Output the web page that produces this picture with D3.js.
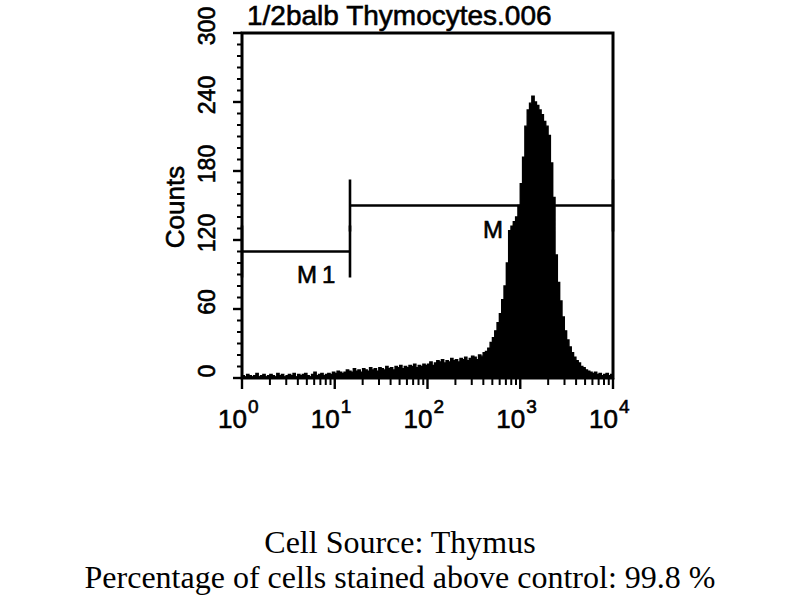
<!DOCTYPE html>
<html>
<head>
<meta charset="utf-8">
<script src="https://cdn.jsdelivr.net/npm/d3@7"></script>
<style>
  html, body { margin: 0; padding: 0; background: #fff; }
  svg { display: block; }
</style>
</head>
<body>
<svg id="chart" width="800" height="600"></svg>
<script>
// ---------------- DATA ----------------
const title = "1/2balb Thymocytes.006";
const yLabel = "Counts";
const yTicks = [0, 60, 120, 180, 240, 300];
const xDecades = [0, 1, 2, 3, 4];           // 10^0 ... 10^4
const binsPerDecade = 40;                   // 160 channels across 4 decades
const counts = [
  // 10^0 .. 10^1
  2,1,3,2,1,2,4,1,2,3,1,2,3,2,1,4,2,3,1,2,3,2,4,1,3,2,3,4,2,1,3,5,2,3,4,2,3,4,3,5,
  // 10^1 .. 10^2
  4,6,5,4,5,7,6,5,8,6,7,5,8,7,6,9,7,8,6,9,8,7,10,8,9,7,10,9,11,8,10,9,11,10,12,9,11,10,12,11,
  // 10^2 .. 10^2.6
  12,14,11,13,15,14,16,13,15,14,17,15,16,14,17,16,18,15,17,19,18,16,20,19,22,
  // rising shoulder
  23,26,31,35,41,48,56,
  // main peak, left side
  68,80,100,128,132,136,140,150,169,192,219,233,239,245,
  // peak right side and tail
  240,237,233,229,223,219,211,187,157,107,83,67,53,41,33,27,22,18,15,13,10,9,7,6,5,
  // 10^3.78 .. 10^4
  4,5,3,4,2,3,4,2,3
];
const markers = [
  { name: "M1", from: 1, to: 14.6, level: 110 },
  { name: "M2", from: 14.6, to: 10000, level: 150 }
];
const captionLines = [
  "Cell Source: Thymus",
  "Percentage of cells stained above control: 99.8 %"
];

// ---------------- LAYOUT ----------------
const svg = d3.select("#chart");
const plot = { left: 242, right: 613, top: 33, bottom: 378 };
const x = d3.scaleLog().domain([1, 10000]).range([plot.left, plot.right]);
const y = d3.scaleLinear().domain([0, 300]).range([plot.bottom, plot.top]);
const sans = "'Liberation Sans', Arial, Helvetica, sans-serif";
const serif = "'Liberation Serif', 'Times New Roman', Times, serif";
const ink = "#000";

function sansText(sel) {
  return sel.attr("font-family", sans)
    .attr("fill", ink)
    .attr("stroke", ink)
    .attr("stroke-width", 0.6);
}

// Marker labels (drawn before histogram so the peak covers part of M2)
const markerLabelPos = { M1: { dx: 297, by: 283, ls: 5 }, M2: { dx: 483, by: 238, ls: 9 } };
markers.forEach(m => {
  const p = markerLabelPos[m.name];
  sansText(svg.append("text"))
    .attr("x", p.dx).attr("y", p.by)
    .attr("font-size", 24)
    .attr("letter-spacing", p.ls)
    .text(m.name);
});

// Marker bars
markers.forEach(m => {
  const g = svg.append("g").attr("stroke", ink).attr("stroke-width", 2.6).attr("fill", "none");
  g.append("line")
    .attr("x1", x(m.from)).attr("x2", x(m.to))
    .attr("y1", y(m.level)).attr("y2", y(m.level));
  [m.from, m.to].forEach(v => {
    g.append("line")
      .attr("x1", x(v)).attr("x2", x(v))
      .attr("y1", y(m.level) - 26).attr("y2", y(m.level) + 26);
  });
});

// Histogram
const pts = counts.map((c, i) => ({ v: Math.pow(10, i / binsPerDecade), c }));
pts.push({ v: 10000, c: counts[counts.length - 1] });
const area = d3.area()
  .x(d => x(d.v))
  .y0(y(0))
  .y1(d => y(d.c))
  .curve(d3.curveStepAfter);
svg.append("path")
  .datum(pts)
  .attr("d", area)
  .attr("fill", ink)
  .attr("stroke", ink)
  .attr("stroke-width", 1.4);

// Frame
svg.append("rect")
  .attr("x", plot.left).attr("y", plot.top)
  .attr("width", plot.right - plot.left).attr("height", plot.bottom - plot.top)
  .attr("fill", "none").attr("stroke", ink).attr("stroke-width", 3);

// Y axis ticks (minor every 10, major every 60)
const yAxisG = svg.append("g").attr("stroke", ink);
d3.range(0, 301, 10).forEach(v => {
  const major = v % 60 === 0;
  yAxisG.append("line")
    .attr("x1", plot.left).attr("x2", plot.left - (major ? 9 : 5))
    .attr("y1", y(v)).attr("y2", y(v))
    .attr("stroke-width", major ? 2.4 : 2);
});
// Y tick labels (rotated)
yTicks.forEach(v => {
  sansText(svg.append("text"))
    .attr("transform", `translate(215,${y(v) - 7}) rotate(-90)`)
    .attr("text-anchor", "middle")
    .attr("font-size", 23)
    .text(v);
});
// Y axis label
sansText(svg.append("text"))
  .attr("transform", "translate(184,207) rotate(-90)")
  .attr("text-anchor", "middle")
  .attr("font-size", 26)
  .text(yLabel);

// X axis ticks (log minor)
const xAxisG = svg.append("g").attr("stroke", ink);
x.ticks().forEach(v => {
  const major = Math.abs(Math.log10(v) - Math.round(Math.log10(v))) < 1e-9;
  xAxisG.append("line")
    .attr("x1", x(v)).attr("x2", x(v))
    .attr("y1", plot.bottom).attr("y2", plot.bottom + (major ? 11 : 7))
    .attr("stroke-width", major ? 2.4 : 2);
});
// X tick labels "10^n"
xDecades.forEach(d => {
  const tx = x(Math.pow(10, d));
  sansText(svg.append("text"))
    .attr("x", tx + 5).attr("y", 428)
    .attr("text-anchor", "end")
    .attr("font-size", 26)
    .text("10");
  sansText(svg.append("text"))
    .attr("x", tx + 6).attr("y", 413)
    .attr("font-size", 19)
    .text(d);
});

// Title
sansText(svg.append("text"))
  .attr("x", 247).attr("y", 25)
  .attr("font-size", 28)
  .text(title);

// Caption
captionLines.forEach((t, i) => {
  svg.append("text")
    .attr("x", 400).attr("y", 553 + i * 35)
    .attr("text-anchor", "middle")
    .attr("font-family", serif).attr("font-size", 32)
    .attr("fill", ink)
    .text(t);
});
</script>
</body>
</html>
